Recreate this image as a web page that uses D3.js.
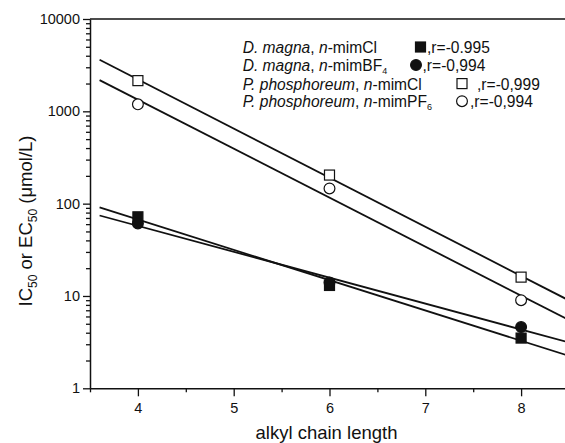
<!DOCTYPE html>
<html>
<head>
<meta charset="utf-8">
<script src="https://cdn.jsdelivr.net/npm/d3@7/dist/d3.min.js"></script>
<style>
  html, body { margin: 0; padding: 0; background: #fff; }
  svg { display: block; font-family: "Liberation Sans", Arial, sans-serif; }
</style>
</head>
<body>
<svg id="chart" width="565" height="443"></svg>
<script>
// Chain lengths of the imidazolium cation
const chainLengths = [4, 6, 8];

// Toxicity values (µmol/L) for each organism / ionic liquid series
const dMagnaCl   = [72, 13, 3.5];
const dMagnaBF4  = [61, 14, 4.6];
const pPhosCl    = [2150, 204, 16];
const pPhosPF6   = [1190, 146, 9.0];

// Correlation coefficients reported in the legend
const rValues = ["-0.995", "-0,994", "-0,999", "-0,994"];

// Axis ticks
const xMajorTicks = [4, 5, 6, 7, 8];
const xMinorTicks = [3.5, 4.5, 5.5, 6.5, 7.5, 8.5];
const yMajorTicks = [1, 10, 100, 1000, 10000];
const yTickLabels = ["1", "10", "100", "1000", "10000"];

const series = [
  { values: dMagnaCl,  marker: "square", filled: true,  species: "D. magna",      anion: ["mimCl", ""]  },
  { values: dMagnaBF4, marker: "circle", filled: true,  species: "D. magna",      anion: ["mimBF", "4"] },
  { values: pPhosCl,   marker: "square", filled: false, species: "P. phosphoreum", anion: ["mimCl", ""] },
  { values: pPhosPF6,  marker: "circle", filled: false, species: "P. phosphoreum", anion: ["mimPF", "6"] }
];

const svg = d3.select("#chart");
const ink = "#111";

const x = d3.scaleLinear().domain([3.5, 8.5]).range([90, 569]);
const y = d3.scaleLog().domain([1, 10000]).range([388.3, 19]);

// Minor ticks of the log axis: 2..9 within each decade
const yMinorTicks = [];
for (let d = 1; d < 10000; d *= 10) {
  for (let k = 2; k <= 9; k++) yMinorTicks.push(d * k);
}

// Frame lines (top and right)
svg.append("line")
  .attr("x1", x(3.5)).attr("x2", x(8.5))
  .attr("y1", y(10000)).attr("y2", y(10000))
  .attr("stroke", ink).attr("stroke-width", 1.5);
svg.append("line")
  .attr("x1", x(8.5)).attr("x2", x(8.5))
  .attr("y1", y(10000)).attr("y2", y(1))
  .attr("stroke", ink).attr("stroke-width", 1.5);

function styleAxis(g) {
  g.selectAll("path.domain").attr("stroke", ink).attr("stroke-width", 1.5);
  g.selectAll(".tick line").attr("stroke", ink).attr("stroke-width", 1.3);
  g.selectAll(".tick text")
    .attr("fill", ink)
    .style("font-size", "14.5px")
    .style("font-family", "'Liberation Sans', Arial, sans-serif");
}

// Y axis
const yAxis = svg.append("g").attr("transform", `translate(${x(3.5)},0)`)
  .call(d3.axisLeft(y).tickValues(yMajorTicks).tickSize(7).tickSizeOuter(0)
    .tickPadding(3).tickFormat((d, i) => yTickLabels[i]));
styleAxis(yAxis);
const yMinor = svg.append("g").attr("transform", `translate(${x(3.5)},0)`)
  .call(d3.axisLeft(y).tickValues(yMinorTicks).tickSize(4).tickSizeOuter(0).tickFormat(""));
yMinor.select("path.domain").remove();
styleAxis(yMinor);

// X axis
const xAxis = svg.append("g").attr("transform", `translate(0,${y(1)})`)
  .call(d3.axisBottom(x).tickValues(xMajorTicks).tickSize(8).tickSizeOuter(0)
    .tickPadding(6).tickFormat(d3.format("d")));
styleAxis(xAxis);
const xMinor = svg.append("g").attr("transform", `translate(0,${y(1)})`)
  .call(d3.axisBottom(x).tickValues(xMinorTicks).tickSize(4).tickSizeOuter(0).tickFormat(""));
xMinor.select("path.domain").remove();
styleAxis(xMinor);

// Axis titles
svg.append("text")
  .attr("x", (x(3.5) + 569) / 2 - 3).attr("y", 439)
  .attr("text-anchor", "middle").attr("fill", ink)
  .style("font-size", "18.5px")
  .text("alkyl chain length");

const yTitle = svg.append("text")
  .attr("transform", "translate(32,221) rotate(-90)")
  .attr("text-anchor", "middle").attr("fill", ink)
  .style("font-size", "18.5px");
yTitle.append("tspan").text("IC");
yTitle.append("tspan").attr("dy", 5).style("font-size", "12px").text("50");
yTitle.append("tspan").attr("dy", -5).text(" or EC");
yTitle.append("tspan").attr("dy", 5).style("font-size", "12px").text("50");
yTitle.append("tspan").attr("dy", -5).text(" (\u03BCmol/L)");

// Log-linear least-squares fit for each series
function fit(values) {
  const xs = chainLengths, ys = values.map(v => Math.log10(v));
  const mx = d3.mean(xs), my = d3.mean(ys);
  const b = d3.sum(xs, (xi, i) => (xi - mx) * (ys[i] - my)) / d3.sum(xs, xi => (xi - mx) ** 2);
  return xv => Math.pow(10, my + b * (xv - mx));
}

const lineGen = d3.line().x(d => x(d[0])).y(d => y(d[1]));
series.forEach(s => {
  const f = fit(s.values);
  const pts = [3.6, 8.5].map(xv => [xv, f(xv)]);
  svg.append("path").attr("d", lineGen(pts))
    .attr("fill", "none").attr("stroke", ink).attr("stroke-width", 1.8);
});

// Markers
function drawMarker(g, type, filled, cx, cy) {
  if (type === "square") {
    g.append("rect")
      .attr("x", cx - 5).attr("y", cy - 5).attr("width", 10).attr("height", 10)
      .attr("fill", filled ? ink : "#fff").attr("stroke", ink).attr("stroke-width", 1.2);
  } else {
    g.append("circle")
      .attr("cx", cx).attr("cy", cy).attr("r", 5.4)
      .attr("fill", filled ? ink : "#fff").attr("stroke", ink).attr("stroke-width", 1.2);
  }
}

const markers = svg.append("g");
series.forEach(s => {
  s.values.forEach((v, i) => drawMarker(markers, s.marker, s.filled, x(chainLengths[i]), y(v)));
});

// Legend
const legendX = 242.7;
const legendBaselines = [53, 71, 89.6, 107.2];
const legendMarkerX = [420.5, 416, 462, 462];
const legendRX = [427, 422.5, 477, 470];
const legend = svg.append("g").style("font-size", "15.6px").attr("fill", ink);
series.forEach((s, i) => {
  const t = legend.append("text").attr("x", legendX).attr("y", legendBaselines[i]);
  t.append("tspan").style("font-style", "italic").text(s.species);
  t.append("tspan").text(", ");
  t.append("tspan").style("font-style", "italic").text("n");
  t.append("tspan").text("-" + s.anion[0]);
  if (s.anion[1]) {
    t.append("tspan").attr("dy", 2.5).style("font-size", "9px").text(s.anion[1]);
  }
  drawMarker(legend, s.marker, s.filled, legendMarkerX[i], legendBaselines[i] - 6);
  legend.append("text").attr("x", legendRX[i]).attr("y", legendBaselines[i])
    .text(",r=" + rValues[i]);
});
</script>
</body>
</html>
